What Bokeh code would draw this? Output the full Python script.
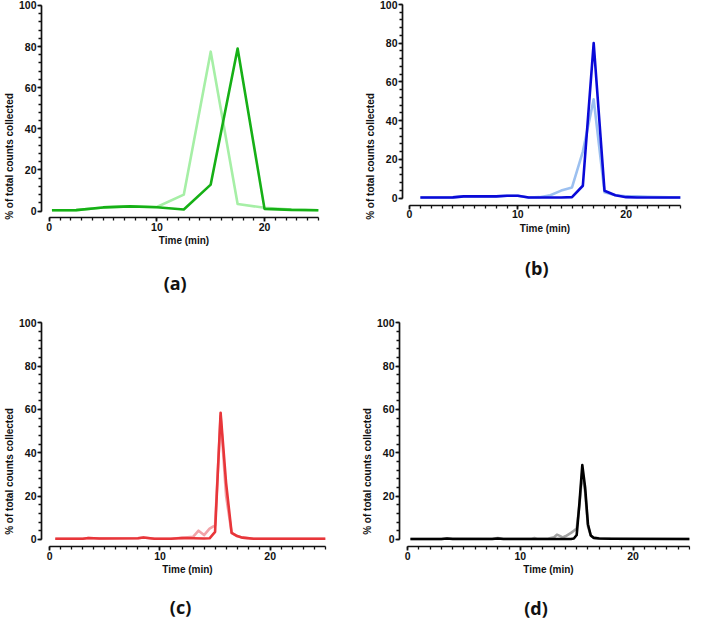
from bokeh.plotting import figure
from bokeh.models import FixedTicker, Label, Range1d
from bokeh.layouts import column, row
from bokeh.embed import file_html
from bokeh.resources import INLINE

# ---------------- data ----------------
# (a) sampled every 2.5 min
x_a = [0.25, 2.5, 5, 7.5, 10, 12.5, 15, 17.5, 20, 22.5, 25]
light_a = [0.4, 0.5, 1.8, 2.3, 2.0, 8.0, 77.5, 3.5, 1.6, 0.8, 0.4]
dark_a = [0.4, 0.5, 1.8, 2.3, 1.9, 0.8, 12.9, 79.0, 1.1, 0.6, 0.4]

# (b) sampled every 1 min
x_b = [1, 2, 3, 4, 5, 6, 7, 8, 9, 10, 11, 12, 13, 14, 15, 16, 17, 18, 19, 20, 21, 22, 23, 24, 25]
light_b = [0.3, 0.3, 0.3, 0.4, 0.9, 0.9, 0.9, 0.9, 1.2, 1.2, 0.3, 0.5, 1.5, 3.9, 5.5, 24.0, 51.0,
           3.0, 1.5, 1.0, 0.9, 0.7, 0.5, 0.4, 0.3]
dark_b = [0.3, 0.3, 0.3, 0.4, 0.9, 0.9, 0.9, 0.9, 1.2, 1.2, 0.3, 0.3, 0.3, 0.3, 0.5, 6.4, 80.0,
          3.8, 1.5, 0.5, 0.3, 0.3, 0.3, 0.3, 0.3]

# (c)
x_c_light = [0.5, 3.0, 3.5, 4.5, 8.0, 8.5, 9.5, 11.0, 12.0, 13.0, 13.5, 14.0, 14.5, 15.0, 15.5,
             16.0, 16.5, 17.0, 17.5, 18.5, 25.0]
light_c = [0.3, 0.3, 0.6, 0.4, 0.5, 0.9, 0.3, 0.3, 0.7, 1.2, 4.0, 2.0, 5.0, 6.5, 57.0,
           20.0, 3.0, 1.5, 0.8, 0.3, 0.3]
x_c_dark = [0.5, 3.0, 3.5, 4.5, 8.0, 8.5, 9.5, 11.0, 12.0, 13.0, 14.0, 14.5, 15.0, 15.5, 16.0,
            16.5, 17.0, 17.5, 18.5, 25.0]
dark_c = [0.3, 0.3, 0.6, 0.4, 0.5, 0.9, 0.3, 0.3, 0.6, 0.5, 0.4, 0.5, 3.5, 58.5, 26.0,
          3.0, 1.5, 0.8, 0.3, 0.3]

# (d)
x_d_light = [0.25, 3.0, 3.5, 7.5, 8.0, 8.5, 11.0, 11.25, 11.5, 12.5, 13.0, 13.25, 13.5, 13.75,
             14.0, 14.5, 14.75, 15.0, 15.25, 15.5, 15.75, 16.0, 16.25, 16.5, 17.0, 18.0, 25.0]
light_d = [0.2, 0.2, 0.4, 0.3, 0.6, 0.3, 0.3, 0.6, 0.3, 0.4, 1.0, 2.2, 1.6, 0.9,
           1.4, 3.0, 4.0, 5.0, 16.0, 31.0, 22.0, 6.0, 1.8, 0.8, 0.5, 0.3, 0.2]
x_d_dark = [0.25, 3.0, 3.5, 4.0, 7.5, 8.0, 8.5, 14.5, 14.75, 15.0, 15.25, 15.5, 15.75, 16.0,
            16.25, 16.5, 17.0, 18.0, 25.0]
dark_d = [0.2, 0.2, 0.4, 0.2, 0.2, 0.4, 0.2, 0.2, 0.4, 2.0, 17.0, 34.3, 24.0, 7.0,
          1.8, 0.7, 0.4, 0.3, 0.2]

x_major = [0, 10, 20]
x_minor = list(range(0, 26))
y_major = [0, 20, 40, 60, 80, 100]
y_minor = list(range(0, 101, 4))

x_title = "Time (min)"
y_title = "% of total counts collected"
panel_labels = ["(a)", "(b)", "(c)", "(d)"]

colors_a = ("#a6efa6", "#16b016")
colors_b = ("#9cc0f0", "#0a0ad8")
colors_c = ("#f2a3a8", "#e8363a")
colors_d = ("#a3a3a3", "#000000")


def make_panel(label, label_xy, series, xr, yr, width, height, borders, x_axis_at):
    left, right, top, bottom = borders
    p = figure(width=width, height=height, x_range=Range1d(*xr), y_range=Range1d(*yr),
               output_backend="svg", toolbar_location=None, title=None,
               min_border_left=left, min_border_right=right,
               min_border_top=top, min_border_bottom=bottom)
    p.outline_line_color = None
    p.grid.visible = False
    p.background_fill_color = "white"
    for xs, ys, color in series:
        p.line(xs, ys, line_color=color, line_width=2.6, line_join="round")

    for ax in (p.xaxis[0], p.yaxis[0]):
        ax.axis_line_width = 1.7
        ax.axis_line_color = "#111111"
        ax.major_tick_line_width = 1.7
        ax.minor_tick_line_width = 1.3
        ax.major_tick_line_color = "#111111"
        ax.minor_tick_line_color = "#111111"
        ax.major_tick_out = 4
        ax.major_tick_in = 0
        ax.minor_tick_out = 3
        ax.minor_tick_in = 0
        ax.major_label_text_font = "Liberation Sans"
        ax.major_label_text_font_style = "bold"
        ax.major_label_text_font_size = "10.5px"
        ax.major_label_text_color = "#111111"
        ax.axis_label_text_font = "Liberation Sans"
        ax.axis_label_text_font_style = "bold"
        ax.axis_label_text_font_size = "10px"
        ax.axis_label_text_color = "#111111"
        ax.major_label_standoff = 1
        ax.axis_label_standoff = 1

    p.xaxis.bounds = (0, 25)
    p.yaxis.bounds = (0, 100)
    p.xaxis.ticker = FixedTicker(ticks=x_major, minor_ticks=x_minor)
    p.yaxis.ticker = FixedTicker(ticks=y_major, minor_ticks=y_minor)
    p.xaxis.axis_label = x_title
    p.yaxis.axis_label = y_title
    p.yaxis.axis_label_standoff = 1
    p.xaxis.fixed_location = x_axis_at

    lx, ly = label_xy
    lab = Label(x=lx, y=ly, text=label, text_align="center", text_baseline="middle",
                text_font="Open Sans", text_font_size="18px", text_font_style="bold",
                text_color="#111111")
    p.add_layout(lab)
    return p


pa = make_panel(panel_labels[0], (11.7, -35.1),
                [(x_a, light_a, colors_a[0]), (x_a, dark_a, colors_a[1])],
                (-0.72, 25.2), (-48.3, 101.4), 346, 310, (39, 26, 2, 0), -3.3)
pb = make_panel(panel_labels[1], (11.74, -36.3),
                [(x_b, light_b, colors_b[0]), (x_b, dark_b, colors_b[1])],
                (-0.65, 25.2), (-58.0, 100.98), 347, 310, (56, 11, 2, 0), -3.7)
pc = make_panel(panel_labels[2], (11.87, -31.3),
                [(x_c_light, light_c, colors_c[0]), (x_c_dark, dark_c, colors_c[1])],
                (-0.75, 25.2), (-38.4, 101.1), 346, 312, (32, 19, 10, 0), -3.3)
pd = make_panel(panel_labels[3], (11.39, -31.6),
                [(x_d_light, light_d, colors_d[0]), (x_d_dark, dark_d, colors_d[1])],
                (-0.72, 25.1), (-38.4, 101.1), 347, 312, (53, 3, 10, 0), -3.3)

layout = column(row(pa, pb), row(pc, pd))
open("out.html", "w").write(file_html(layout, INLINE))
